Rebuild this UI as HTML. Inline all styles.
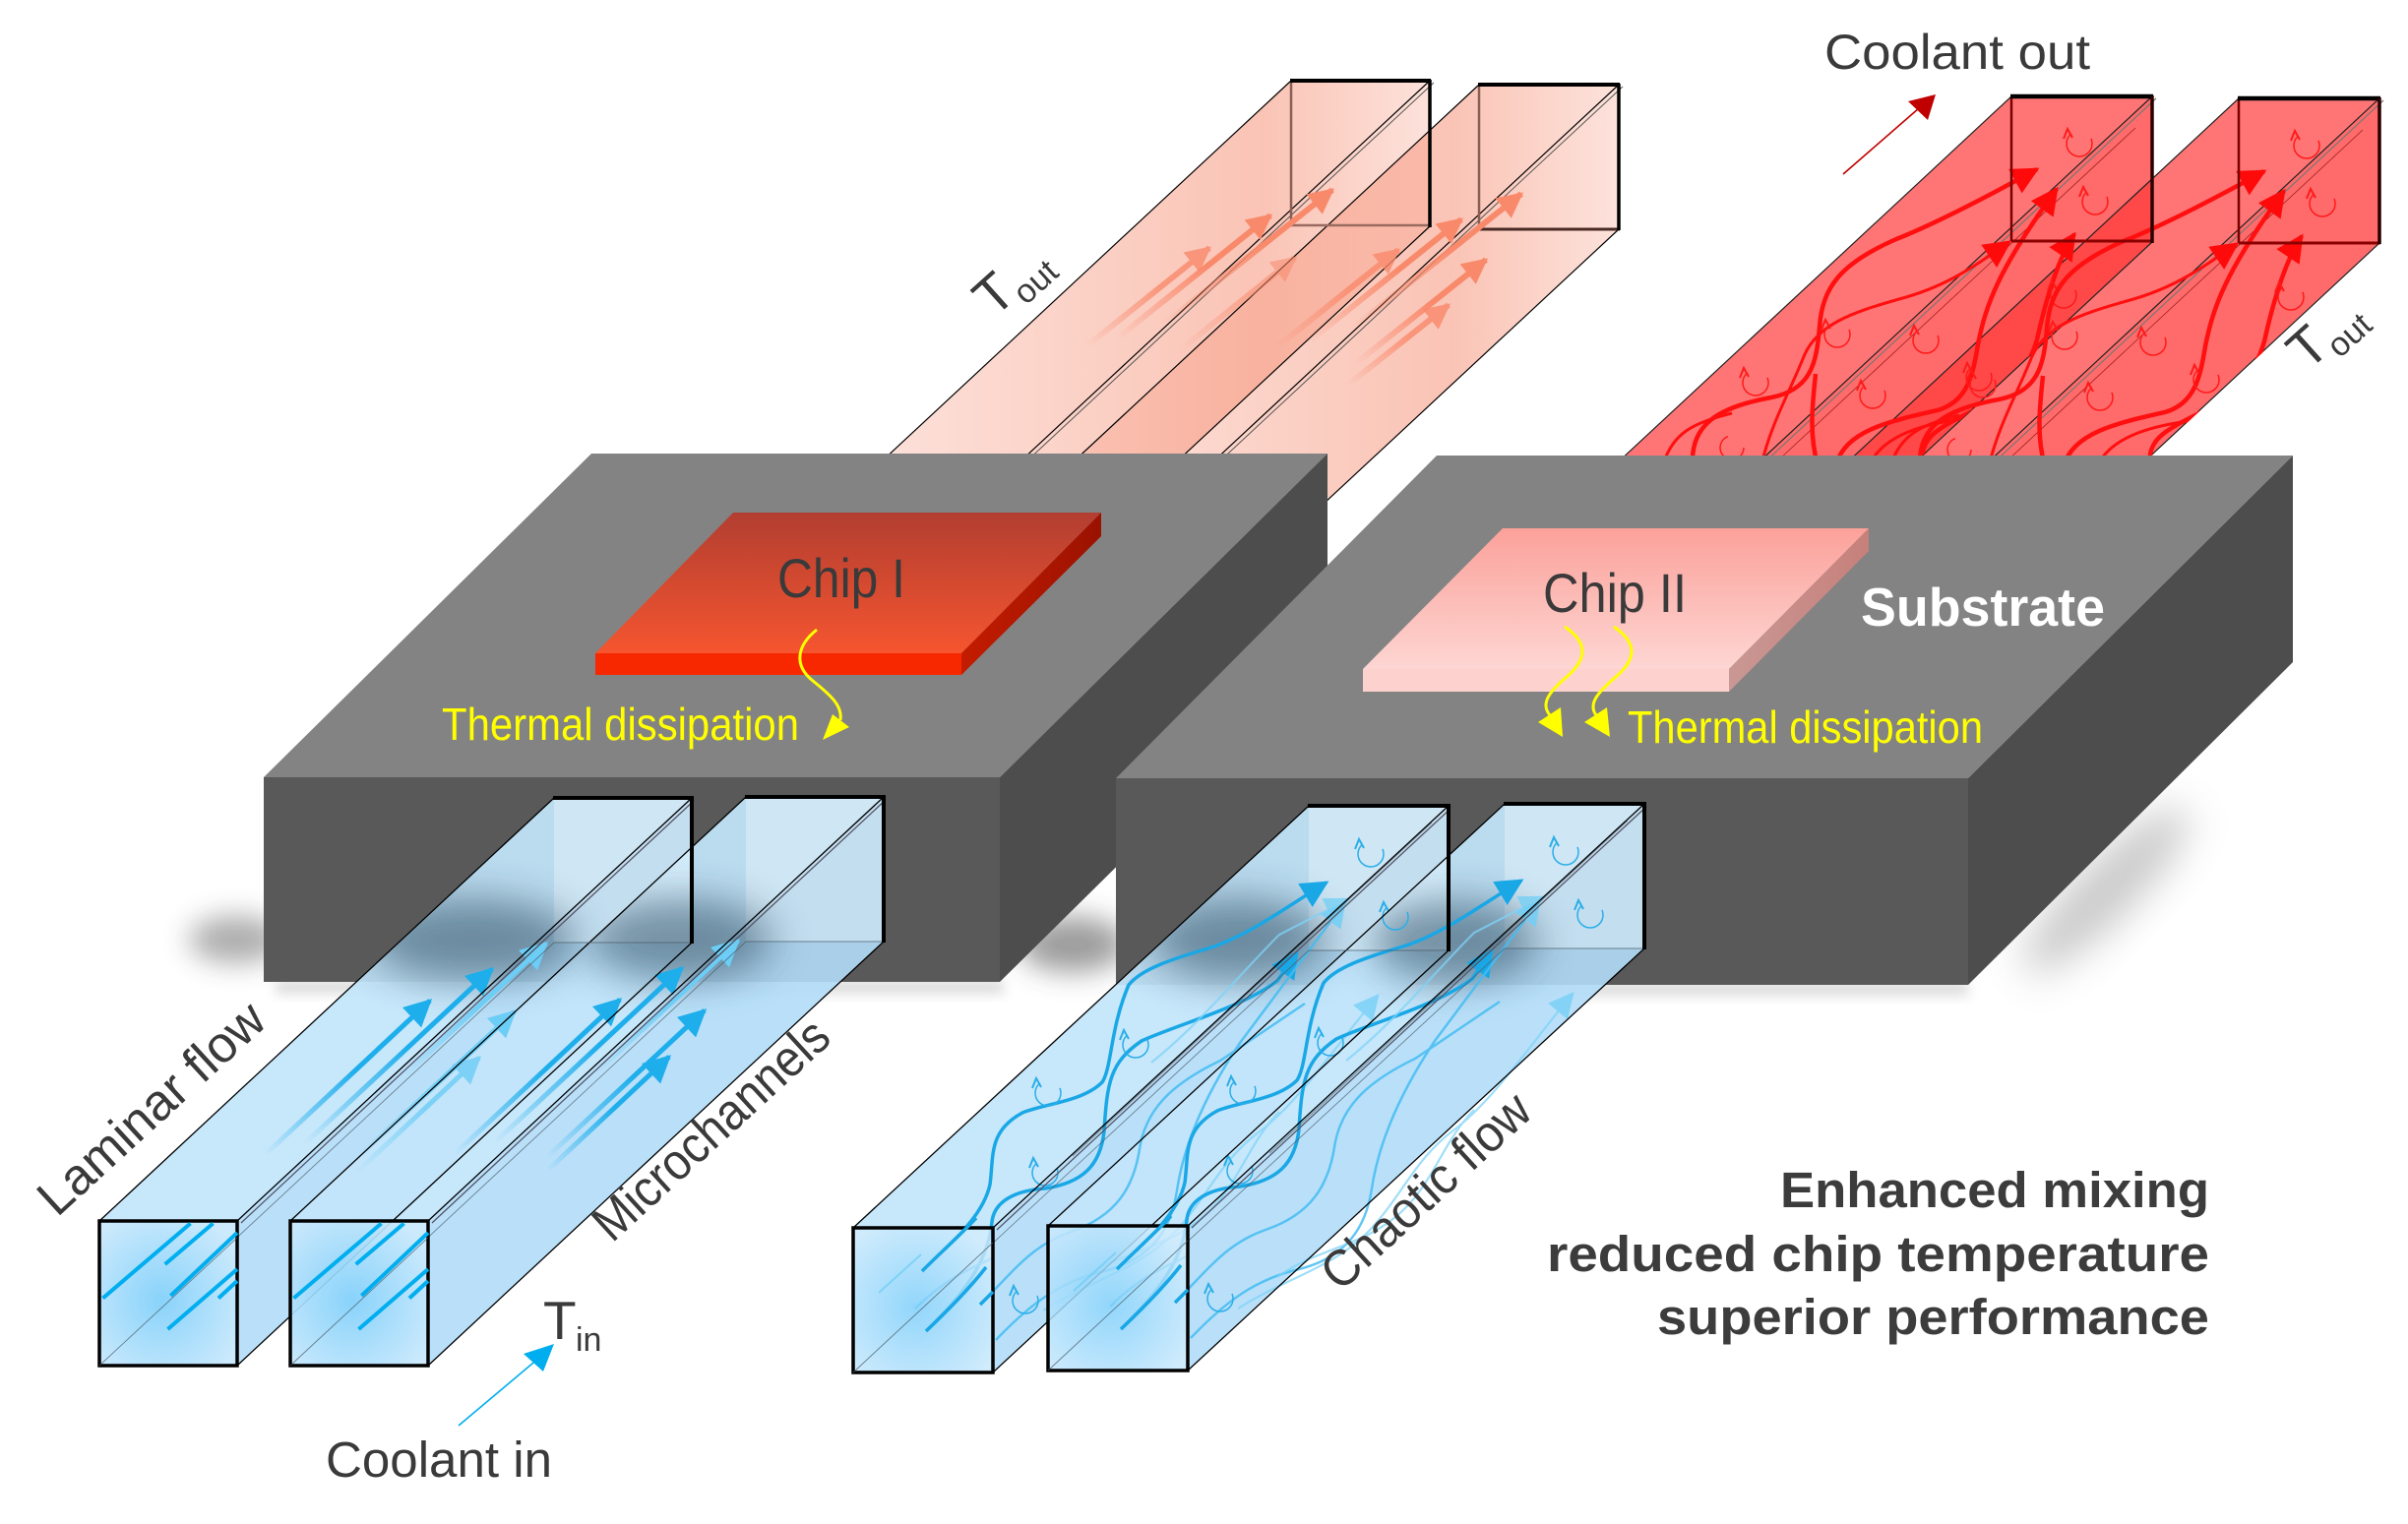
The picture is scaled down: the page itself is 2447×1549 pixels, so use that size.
<!DOCTYPE html>
<html><head><meta charset="utf-8"><style>html,body{margin:0;padding:0;background:#fff}svg{display:block}text{font-family:"Liberation Sans",sans-serif}</style></head>
<body>
<svg width="2447" height="1549" viewBox="0 0 2447 1549" xmlns="http://www.w3.org/2000/svg">
<defs>
<filter id="b14" x="-60%" y="-60%" width="220%" height="220%"><feGaussianBlur stdDeviation="14"/></filter>
<filter id="b20" x="-60%" y="-60%" width="220%" height="220%"><feGaussianBlur stdDeviation="20"/></filter>
<filter id="b6" x="-60%" y="-60%" width="220%" height="220%"><feGaussianBlur stdDeviation="6"/></filter>
<linearGradient id="gP1" gradientUnits="userSpaceOnUse" x1="750" y1="0" x2="1460" y2="0"><stop offset="0" stop-color="#f79c84" stop-opacity=".2"/><stop offset=".75" stop-color="#f79c84" stop-opacity=".6"/><stop offset="1" stop-color="#f79c84" stop-opacity=".28"/></linearGradient>
<linearGradient id="gP2" gradientUnits="userSpaceOnUse" x1="950" y1="0" x2="1650" y2="0"><stop offset="0" stop-color="#f79c84" stop-opacity=".2"/><stop offset=".75" stop-color="#f79c84" stop-opacity=".6"/><stop offset="1" stop-color="#f79c84" stop-opacity=".28"/></linearGradient>
<linearGradient id="c1top" x1="0" y1="0" x2="0" y2="1"><stop offset="0" stop-color="#b23e31"/><stop offset="1" stop-color="#f5552f"/></linearGradient>
<linearGradient id="c1side" x1="0" y1="0" x2="1" y2="0"><stop offset="0" stop-color="#c41c00"/><stop offset="1" stop-color="#9a1200"/></linearGradient>
<linearGradient id="c2top" x1="0" y1="0" x2="0" y2="1"><stop offset="0" stop-color="#fca19a"/><stop offset="1" stop-color="#fdd6d3"/></linearGradient>
<linearGradient id="c2side" x1="0" y1="0" x2="1" y2="0"><stop offset="0" stop-color="#c99894"/><stop offset="1" stop-color="#c7807b"/></linearGradient>
<radialGradient id="ff" cx=".45" cy=".55" r=".65"><stop offset="0" stop-color="#7fcffa"/><stop offset="1" stop-color="#c8e8fc"/></radialGradient>
<linearGradient id="fB" x1="0" y1="1" x2="1" y2="0"><stop offset="0" stop-color="#1eaeec" stop-opacity="0"/><stop offset=".55" stop-color="#1eaeec"/></linearGradient>
<linearGradient id="fBL" x1="0" y1="1" x2="1" y2="0"><stop offset="0" stop-color="#6ccdf6" stop-opacity="0"/><stop offset=".55" stop-color="#6ccdf6"/></linearGradient>
<linearGradient id="fP" x1="0" y1="1" x2="1" y2="0"><stop offset="0" stop-color="#f9896b" stop-opacity="0"/><stop offset=".6" stop-color="#f9896b"/></linearGradient>
<marker id="mB" viewBox="0 0 10 10" refX="9" refY="5" markerWidth="30" markerHeight="28" markerUnits="userSpaceOnUse" orient="auto"><path d="M0,0L10,5L0,10z" fill="#1eaeec"/></marker>
<marker id="mBL" viewBox="0 0 10 10" refX="9" refY="5" markerWidth="30" markerHeight="28" markerUnits="userSpaceOnUse" orient="auto"><path d="M0,0L10,5L0,10z" fill="#6ccdf6"/></marker>
<marker id="mBc" viewBox="0 0 10 10" refX="9" refY="5" markerWidth="32" markerHeight="28" markerUnits="userSpaceOnUse" orient="auto"><path d="M0,0L10,5L0,10z" fill="#19a7e6"/></marker>
<marker id="mBcl" viewBox="0 0 10 10" refX="9" refY="5" markerWidth="30" markerHeight="26" markerUnits="userSpaceOnUse" orient="auto"><path d="M0,0L10,5L0,10z" fill="#72cff6"/></marker>
<marker id="mP" viewBox="0 0 10 10" refX="9" refY="5" markerWidth="28" markerHeight="26" markerUnits="userSpaceOnUse" orient="auto"><path d="M0,0L10,5L0,10z" fill="#f9896b"/></marker>
<marker id="mR" viewBox="0 0 10 10" refX="9" refY="5" markerWidth="32" markerHeight="28" markerUnits="userSpaceOnUse" orient="auto"><path d="M0,0L10,5L0,10z" fill="#ff0a0a"/></marker>
<clipPath id="kL1"><polygon points="101,1241 563,811 703,811 703,958 241,1388 101,1388"/></clipPath>
<clipPath id="kL2"><polygon points="295,1241 758,810 898,810 898,957 435,1388 295,1388"/></clipPath>
<clipPath id="kM1"><polygon points="867,1248 1330,819 1472,819 1472,966 1009,1395 867,1395"/></clipPath>
<clipPath id="kM2"><polygon points="1065,1246 1529,817 1671,817 1671,964 1207,1393 1065,1393"/></clipPath>
<clipPath id="kR1"><polygon points="2044,98 2187,98 2187,246 1587,804 1587,656 1444,656"/></clipPath>
</defs>

<rect width="2447" height="1549" fill="#fff"/>

<!-- PINK CHANNELS (top left) -->
<g>
<polygon points="1312,82 1453,82 853,640 712,640" fill="url(#gP1)"/>
<polygon points="1453,82 1453,230 853,788 853,640" fill="url(#gP1)"/>
<polygon points="1503,86 1645,86 1045,644 903,644" fill="url(#gP2)"/>
<polygon points="1645,86 1645,233 1045,791 1045,644" fill="url(#gP2)"/>
<g stroke="#000" stroke-width="1.2" fill="none">
<line x1="1312" y1="82" x2="712" y2="640"/>
<line x1="1453" y1="82" x2="853" y2="640"/>
<line x1="1457" y1="84" x2="857" y2="642" stroke="#555" stroke-width="1"/>
<line x1="1453" y1="230" x2="853" y2="788"/>
<line x1="1503" y1="86" x2="903" y2="644"/>
<line x1="1645" y1="86" x2="1045" y2="644"/>
<line x1="1649" y1="88" x2="1049" y2="646" stroke="#555" stroke-width="1"/>
<line x1="1645" y1="233" x2="1045" y2="791"/>
</g>
<g fill="none">
<line x1="1312" y1="82" x2="1312" y2="229" stroke="#8a5e55" stroke-width="2.5"/>
<line x1="1312" y1="229" x2="1453" y2="229" stroke="#9a6b60" stroke-width="2.5"/>
<line x1="1311" y1="82" x2="1454" y2="82" stroke="#000" stroke-width="4"/>
<line x1="1453" y1="81" x2="1453" y2="231" stroke="#000" stroke-width="3.5"/>
<line x1="1503" y1="86" x2="1503" y2="233" stroke="#8a5e55" stroke-width="2.5"/>
<line x1="1503" y1="233" x2="1646" y2="233" stroke="#4a2a24" stroke-width="3"/>
<line x1="1502" y1="86" x2="1646" y2="86" stroke="#000" stroke-width="4"/>
<line x1="1645" y1="85" x2="1645" y2="234" stroke="#000" stroke-width="3.5"/>
</g>
<g stroke-width="6" fill="none">
<line x1="1182" y1="330" x2="1354" y2="193" stroke="url(#fP)" marker-end="url(#mP)"/>
<line x1="1135" y1="344" x2="1291" y2="219" stroke="url(#fP)" marker-end="url(#mP)"/>
<line x1="1104" y1="352" x2="1229" y2="252" stroke="url(#fP)" marker-end="url(#mP)" opacity=".8"/>
<line x1="1199" y1="356" x2="1316" y2="262" stroke="url(#fP)" marker-end="url(#mP)" opacity=".55"/>
<line x1="1374" y1="334" x2="1546" y2="197" stroke="url(#fP)" marker-end="url(#mP)"/>
<line x1="1329" y1="348" x2="1485" y2="223" stroke="url(#fP)" marker-end="url(#mP)"/>
<line x1="1296" y1="354" x2="1421" y2="254" stroke="url(#fP)" marker-end="url(#mP)" opacity=".8"/>
<line x1="1377" y1="370" x2="1510" y2="264" stroke="url(#fP)" marker-end="url(#mP)"/>
<line x1="1370" y1="391" x2="1472" y2="310" stroke="url(#fP)" marker-end="url(#mP)" opacity=".8"/>
</g>
</g>

<!-- RED CHANNELS (top right) -->
<g>
<polygon points="2044,98 2187,98 1587,656 1444,656" fill="#ff3b3b" fill-opacity=".7"/>
<polygon points="2187,98 2187,246 1587,804 1587,656" fill="#ff3030" fill-opacity=".72"/>
<polygon points="2275,100 2418,100 1818,658 1675,658" fill="#ff3b3b" fill-opacity=".7"/>
<polygon points="2418,100 2418,247 1818,805 1818,658" fill="#ff3030" fill-opacity=".72"/>
<g stroke="#222" stroke-width="1.2" fill="none">
<line x1="2044" y1="98" x2="1444" y2="656"/>
<line x1="2187" y1="98" x2="1587" y2="656"/>
<line x1="2191" y1="100" x2="1591" y2="658" stroke="#777"/>
<line x1="2187" y1="246" x2="1587" y2="804"/>
<line x1="2275" y1="100" x2="1675" y2="658"/>
<line x1="2418" y1="100" x2="1818" y2="658"/>
<line x1="2422" y1="102" x2="1822" y2="660" stroke="#777"/>
<line x1="2418" y1="247" x2="1818" y2="805"/>
<line x1="2170" y1="130" x2="1780" y2="493" stroke="#a02020" stroke-width=".8"/>
<line x1="2401" y1="132" x2="2011" y2="495" stroke="#a02020" stroke-width=".8"/>
</g>
<g id="rf" clip-path="url(#kR1)">
<g fill="none" stroke="#ff0f0f" stroke-width="4.5">
<path d="M1720,472 C1718,432 1745,414 1800,404 C1840,396 1846,370 1849,332 C1852,292 1870,268 1927,243 C1960,230 2010,205 2070,172" marker-end="url(#mR)"/>
<path d="M1847,472 C1838,440 1842,410 1845,380"/>
<path d="M1866,472 C1875,438 1920,428 1969,417 C2000,408 2005,380 2010,350 C2018,310 2030,275 2090,192" marker-end="url(#mR)"/>
<path d="M1954,472 C1950,445 1970,435 2000,420 C2040,400 2060,380 2070,345 C2080,300 2092,262 2108,238" marker-end="url(#mR)"/>
</g>
<g fill="none" stroke="#ff0f0f" stroke-width="3">
<path d="M1790,472 C1800,430 1818,400 1834,360 C1848,330 1880,318 1930,304 C1975,292 2000,275 2042,246" marker-end="url(#mR)"/>
<path d="M1900,472 C1915,440 1960,430 2000,425"/>
<path d="M1690,472 C1700,440 1720,430 1760,420"/>
</g>
<g fill="none" stroke="#ff1a1a" stroke-width="1.5" stroke-dasharray="52 24">
<circle cx="1784" cy="389" r="13"/><circle cx="1867" cy="340" r="13"/><circle cx="1957" cy="346" r="13"/><circle cx="1903" cy="402" r="13"/>
<circle cx="2113" cy="146" r="13"/><circle cx="2129" cy="205" r="13"/><circle cx="2011" cy="384" r="13"/><circle cx="2097" cy="300" r="13"/><circle cx="1760" cy="455" r="12"/>
</g>
<g fill="none" stroke="#ff1a1a" stroke-width="2">
<path d="M1768,384 l4,-10 l5,9"/><path d="M1851,335 l4,-10 l5,9"/><path d="M1941,341 l4,-10 l5,9"/><path d="M1887,397 l4,-10 l5,9"/>
<path d="M2097,141 l4,-10 l5,9"/><path d="M2113,200 l4,-10 l5,9"/><path d="M1995,379 l4,-10 l5,9"/><path d="M2081,295 l4,-10 l5,9"/>
</g>
</g>
<use href="#rf" transform="translate(231,2)"/>
<g fill="none">
<line x1="2044" y1="98" x2="2044" y2="245" stroke="#7a0000" stroke-width="2.5"/>
<line x1="2044" y1="245" x2="2188" y2="245" stroke="#8b0000" stroke-width="3"/>
<line x1="2043" y1="98" x2="2188" y2="98" stroke="#000" stroke-width="4.5"/>
<line x1="2187" y1="97" x2="2187" y2="247" stroke="#2a0000" stroke-width="3.5"/>
<line x1="2275" y1="100" x2="2275" y2="247" stroke="#7a0000" stroke-width="2.5"/>
<line x1="2275" y1="247" x2="2419" y2="247" stroke="#8b0000" stroke-width="3"/>
<line x1="2274" y1="100" x2="2419" y2="100" stroke="#000" stroke-width="4.5"/>
<line x1="2418" y1="99" x2="2418" y2="248" stroke="#2a0000" stroke-width="3.5"/>
</g>
</g>

<!-- GROUND SHADOWS -->
<ellipse cx="240" cy="955" rx="48" ry="24" fill="#3a3a3a" opacity=".42" filter="url(#b14)"/>
<ellipse cx="1090" cy="960" rx="55" ry="28" fill="#3a3a3a" opacity=".5" filter="url(#b14)"/>
<ellipse cx="2140" cy="905" rx="115" ry="30" fill="#8a8a8a" opacity=".45" filter="url(#b20)" transform="rotate(-45 2140 905)"/>
<rect x="280" y="996" width="740" height="14" fill="#888" opacity=".3" filter="url(#b6)"/>
<rect x="1140" y="998" width="860" height="14" fill="#888" opacity=".3" filter="url(#b6)"/>

<!-- SUBSTRATE 1 -->
<polygon points="601,461 1349,461 1016,790 268,790" fill="#838383"/>
<polygon points="268,790 1016,790 1016,998 268,998" fill="#595959"/>
<polygon points="1016,790 1349,461 1349,669 1016,998" fill="#4d4d4d"/>
<!-- CHIP I -->
<polygon points="745,521 1119,521 977,664 605,664" fill="url(#c1top)"/>
<polygon points="605,664 977,664 977,686 605,686" fill="#f72800"/>
<polygon points="977,664 1119,521 1119,545 977,686" fill="url(#c1side)"/>

<!-- SUBSTRATE 2 -->
<polygon points="1460,463 2330,463 2000,791 1134,791" fill="#838383"/>
<polygon points="1134,791 2000,791 2000,1001 1134,1001" fill="#595959"/>
<polygon points="2000,791 2330,463 2330,673 2000,1001" fill="#4d4d4d"/>
<!-- CHIP II -->
<polygon points="1527,537 1899,537 1757,680 1385,680" fill="url(#c2top)"/>
<polygon points="1385,680 1757,680 1757,703 1385,703" fill="#fdd2ce"/>
<polygon points="1757,680 1899,537 1899,560 1757,703" fill="url(#c2side)"/>

<!-- BLUE CHANNELS faces -->
<g>
<polygon points="101,1241 241,1241 703,811 563,811" fill="#c3e5fb" fill-opacity=".93"/>
<polygon points="241,1241 703,811 703,958 241,1388" fill="#b3ddf8" fill-opacity=".9"/>
<polygon points="295,1241 435,1241 898,810 758,810" fill="#c3e5fb" fill-opacity=".93"/>
<polygon points="435,1241 898,810 898,957 435,1388" fill="#b3ddf8" fill-opacity=".9"/>
<polygon points="867,1248 1009,1248 1472,819 1330,819" fill="#c3e5fb" fill-opacity=".93"/>
<polygon points="1009,1248 1472,819 1472,966 1009,1395" fill="#b3ddf8" fill-opacity=".9"/>
<polygon points="1065,1246 1207,1246 1671,817 1529,817" fill="#c3e5fb" fill-opacity=".93"/>
<polygon points="1207,1246 1671,817 1671,964 1207,1393" fill="#b3ddf8" fill-opacity=".9"/>
<rect x="563" y="811" width="140" height="147" fill="#fff" opacity=".3"/>
<rect x="758" y="810" width="140" height="147" fill="#fff" opacity=".3"/>
<rect x="1330" y="819" width="142" height="147" fill="#fff" opacity=".3"/>
<rect x="1529" y="817" width="142" height="147" fill="#fff" opacity=".3"/>
<g clip-path="url(#kL1)"><ellipse cx="480" cy="955" rx="105" ry="42" fill="#2c4a5e" opacity=".55" filter="url(#b20)"/></g>
<g clip-path="url(#kL2)"><ellipse cx="690" cy="955" rx="95" ry="42" fill="#2c4a5e" opacity=".55" filter="url(#b20)"/></g>
<g clip-path="url(#kM1)"><ellipse cx="1258" cy="955" rx="90" ry="42" fill="#2c4a5e" opacity=".55" filter="url(#b20)"/></g>
<g clip-path="url(#kM2)"><ellipse cx="1478" cy="957" rx="85" ry="42" fill="#2c4a5e" opacity=".55" filter="url(#b20)"/></g>
</g>

<!-- laminar arrows -->
<g stroke-width="5" fill="none">
<line x1="269" y1="1174" x2="437" y2="1017" stroke="url(#fB)" marker-end="url(#mB)"/>
<line x1="310" y1="1162" x2="500" y2="985" stroke="url(#fB)" marker-end="url(#mB)"/>
<line x1="409" y1="1095" x2="555" y2="959" stroke="url(#fBL)" marker-end="url(#mBL)"/>
<line x1="362" y1="1178" x2="523" y2="1028" stroke="url(#fBL)" marker-end="url(#mBL)"/>
<line x1="363" y1="1191" x2="487" y2="1075" stroke="url(#fBL)" marker-end="url(#mBL)" opacity=".8"/>
<line x1="462" y1="1173" x2="630" y2="1016" stroke="url(#fB)" marker-end="url(#mB)"/>
<line x1="503" y1="1161" x2="693" y2="984" stroke="url(#fB)" marker-end="url(#mB)"/>
<line x1="604" y1="1092" x2="750" y2="956" stroke="url(#fBL)" marker-end="url(#mBL)"/>
<line x1="555" y1="1177" x2="716" y2="1027" stroke="url(#fB)" marker-end="url(#mB)"/>
<line x1="556" y1="1190" x2="680" y2="1074" stroke="url(#fB)" marker-end="url(#mB)"/>
</g>

<!-- chaotic flows M1 -->
<g id="mf">
<g fill="none" stroke="#19a7e6" stroke-width="3.5">
<path d="M937,1292 C960,1268 998,1240 1006,1204 C1010,1175 1004,1150 1039,1131 C1060,1122 1100,1120 1120,1100 C1130,1085 1128,1045 1147,1001 C1160,985 1190,975 1231,963 C1270,950 1310,920 1348,897" marker-end="url(#mBc)"/>
<path d="M941,1353 C975,1320 1004,1285 1008,1242 C1010,1222 1030,1210 1062,1208 C1100,1202 1118,1185 1122,1150 C1125,1100 1128,1080 1160,1058 C1200,1040 1260,1025 1298,997 L1318,968" marker-end="url(#mBc)"/>
</g>
<g fill="none" stroke="#45bdf2" stroke-width="2.5" opacity=".85">
<path d="M996,1326 C1030,1292 1048,1266 1088,1252 C1135,1236 1152,1206 1158,1168 C1164,1128 1190,1102 1240,1078 L1326,1020"/>
<path d="M930,1330 C960,1300 985,1290 1010,1278"/>
<path d="M1012,1362 C1050,1322 1080,1302 1122,1292 C1170,1280 1190,1250 1196,1210 C1202,1170 1220,1120 1260,1060 L1366,918" marker-end="url(#mBcl)"/>
</g>
<g fill="none" stroke="#7fd3f8" stroke-width="2.2" opacity=".75">
<path d="M1060,1332 C1110,1300 1160,1290 1196,1250 C1228,1215 1240,1180 1280,1150 C1320,1120 1360,1060 1400,1012" marker-end="url(#mBcl)"/>
<path d="M1100,1300 C1140,1270 1190,1270 1230,1230 C1260,1200 1270,1160 1300,1130"/>
<path d="M1170,1080 C1220,1040 1260,990 1300,950 L1370,914" marker-end="url(#mBcl)"/>
</g>
<g fill="none" stroke="#2aaee8" stroke-width="1.5" stroke-dasharray="52 24">
<circle cx="1065" cy="1111" r="13"/><circle cx="1062" cy="1192" r="13"/><circle cx="1154" cy="1062" r="13"/>
<circle cx="1393" cy="868" r="13"/><circle cx="1418" cy="932" r="13"/><circle cx="1042" cy="1322" r="13"/>
</g>
<g fill="none" stroke="#2aaee8" stroke-width="2">
<path d="M1049,1106 l4,-10 l5,9"/><path d="M1046,1187 l4,-10 l5,9"/><path d="M1138,1057 l4,-10 l5,9"/>
<path d="M1377,863 l4,-10 l5,9"/><path d="M1402,927 l4,-10 l5,9"/><path d="M1026,1317 l4,-10 l5,9"/>
</g>
</g>
<use href="#mf" transform="translate(198,-2)"/>

<!-- blue channel edges -->
<g stroke="#000" fill="none">
<g stroke-width="1.3">
<line x1="101" y1="1241" x2="563" y2="811"/><line x1="241" y1="1241" x2="703" y2="811"/><line x1="245" y1="1243" x2="706" y2="813" stroke="#556"/><line x1="241" y1="1388" x2="703" y2="958"/>
<line x1="295" y1="1241" x2="758" y2="810"/><line x1="435" y1="1241" x2="898" y2="810"/><line x1="439" y1="1243" x2="901" y2="812" stroke="#556"/><line x1="435" y1="1388" x2="898" y2="957"/>
<line x1="867" y1="1248" x2="1330" y2="819"/><line x1="1009" y1="1248" x2="1472" y2="819"/><line x1="1013" y1="1250" x2="1475" y2="821" stroke="#556"/><line x1="1009" y1="1395" x2="1472" y2="966"/>
<line x1="1065" y1="1246" x2="1529" y2="817"/><line x1="1207" y1="1246" x2="1671" y2="817"/><line x1="1211" y1="1248" x2="1674" y2="819" stroke="#556"/><line x1="1207" y1="1393" x2="1671" y2="964"/>
</g>
<g stroke-width=".9" stroke="#4a5a66" opacity=".7">
<line x1="101" y1="1388" x2="563" y2="958"/><line x1="295" y1="1388" x2="758" y2="957"/>
<line x1="867" y1="1395" x2="1330" y2="966"/><line x1="1065" y1="1393" x2="1529" y2="964"/>
<line x1="563" y1="958" x2="703" y2="958"/><line x1="758" y1="957" x2="898" y2="957"/>
<line x1="1330" y1="966" x2="1472" y2="966"/><line x1="1529" y1="964" x2="1671" y2="964"/>
<line x1="1455" y1="836" x2="1090" y2="1175"/><line x1="1654" y1="834" x2="1290" y2="1172"/>
</g>
<g stroke-width="4">
<polyline points="562,811 703,811 703,959"/><polyline points="757,810 898,810 898,958"/>
<polyline points="1329,819 1472,819 1472,967"/><polyline points="1528,817 1671,817 1671,965"/>
</g>
</g>

<!-- front faces -->
<g stroke="#000" stroke-width="3.5">
<rect x="101" y="1241" width="140" height="147" fill="url(#ff)" fill-opacity=".92"/>
<rect x="295" y="1241" width="140" height="147" fill="url(#ff)" fill-opacity=".92"/>
<rect x="867" y="1248" width="142" height="147" fill="url(#ff)" fill-opacity=".85"/>
<rect x="1065" y="1246" width="142" height="147" fill="url(#ff)" fill-opacity=".85"/>
</g>
<g stroke="#4a5a66" stroke-width=".9" opacity=".7">
<line x1="101" y1="1388" x2="241" y2="1258"/><line x1="295" y1="1388" x2="435" y2="1258"/>
<line x1="867" y1="1395" x2="1009" y2="1263"/><line x1="1065" y1="1393" x2="1207" y2="1261"/>
</g>
<g stroke="#00aeef" stroke-width="4">
<line x1="104.5" y1="1319.5" x2="193.5" y2="1243.5"/><line x1="167.7" y1="1285" x2="216.5" y2="1243.5"/><line x1="173.4" y1="1317" x2="241" y2="1253"/><line x1="170.5" y1="1351" x2="241" y2="1290"/><line x1="222" y1="1319.5" x2="241" y2="1302"/>
<line x1="298.5" y1="1319.5" x2="387.5" y2="1243.5"/><line x1="361.7" y1="1285" x2="410.5" y2="1243.5"/><line x1="367.4" y1="1317" x2="435" y2="1253"/><line x1="364.5" y1="1351" x2="435" y2="1290"/><line x1="416" y1="1319.5" x2="435" y2="1302"/>
</g>
<g stroke="#19a7e6" stroke-width="3.5" fill="none">
<path d="M937,1292 C955,1274 975,1256 992,1238"/><path d="M941,1353 C962,1333 985,1310 1002,1288"/><path d="M996,1326 L1009,1313"/>
<path d="M1135,1290 C1153,1272 1173,1254 1190,1236"/><path d="M1139,1351 C1160,1331 1183,1308 1200,1286"/><path d="M1194,1324 L1207,1311"/>
</g>
<g stroke="#6ccdf6" stroke-width="2" opacity=".7"><line x1="893" y1="1314" x2="936" y2="1275"/><line x1="1091" y1="1312" x2="1134" y2="1273"/></g>

<!-- yellow thermal arrows -->
<g fill="none" stroke="#ffff00" stroke-width="3">
<path d="M830,640 C810,656 806,676 826,692 C846,708 856,718 854,732"/>
<path d="M1590,637 C1612,652 1615,668 1592,688 C1572,705 1566,716 1575,727"/>
<path d="M1640,637 C1662,652 1665,668 1642,688 C1622,705 1614,716 1622,727"/>
</g>
<g fill="#ffff00">
<polygon points="836,752 846,726 863,739"/>
<polygon points="1563,734 1586,719 1588,749"/>
<polygon points="1610,734 1633,719 1636,749"/>
</g>

<!-- coolant arrows -->
<line x1="466" y1="1449" x2="548" y2="1380" stroke="#00aeef" stroke-width="1.6"/>
<polygon points="563,1366 532,1376 552,1394" fill="#00aeef"/>
<line x1="1873" y1="177" x2="1950" y2="110" stroke="#c00000" stroke-width="1.6"/>
<polygon points="1967,96 1939,103 1959,122" fill="#c00000"/>

<!-- TEXT -->
<g fill="#3a3a3a">
<text x="790" y="607" font-size="56" textLength="130" lengthAdjust="spacingAndGlyphs">Chip I</text>
<text x="1568" y="622" font-size="56" textLength="146" lengthAdjust="spacingAndGlyphs">Chip II</text>
<text x="1854" y="70" font-size="50" textLength="270" lengthAdjust="spacingAndGlyphs">Coolant out</text>
<text x="331" y="1501" font-size="51" textLength="230" lengthAdjust="spacingAndGlyphs">Coolant in</text>
<text x="552" y="1361" font-size="55">T</text>
<text x="585" y="1373" font-size="34">in</text>
<g transform="translate(1010,324) rotate(-42)"><text x="0" y="0" font-size="55">T</text><text x="33" y="12" font-size="34">out</text></g>
<g transform="translate(2345,378) rotate(-42)"><text x="0" y="0" font-size="55">T</text><text x="33" y="12" font-size="34">out</text></g>
<text transform="translate(58,1238) rotate(-42.5)" font-size="52" textLength="292" lengthAdjust="spacingAndGlyphs">Laminar flow</text>
<text transform="translate(622,1264) rotate(-42.5)" font-size="52" textLength="305" lengthAdjust="spacingAndGlyphs">Microchannels</text>
<text transform="translate(1362,1314) rotate(-42.5)" font-size="52" textLength="268" lengthAdjust="spacingAndGlyphs">Chaotic flow</text>
</g>
<text x="1891" y="636" font-size="55" font-weight="bold" fill="#fff" textLength="248" lengthAdjust="spacingAndGlyphs">Substrate</text>
<g fill="#ffff00" font-size="46">
<text x="449" y="752" textLength="363" lengthAdjust="spacingAndGlyphs">Thermal dissipation</text>
<text x="1654" y="755" textLength="361" lengthAdjust="spacingAndGlyphs">Thermal dissipation</text>
</g>
<g fill="#3c3c3c" font-size="51" font-weight="bold">
<text x="1809" y="1227" textLength="436" lengthAdjust="spacingAndGlyphs">Enhanced mixing</text>
<text x="1572" y="1292" textLength="673" lengthAdjust="spacingAndGlyphs">reduced chip temperature</text>
<text x="1684" y="1356" textLength="561" lengthAdjust="spacingAndGlyphs">superior performance</text>
</g>
</svg>
</body></html>
